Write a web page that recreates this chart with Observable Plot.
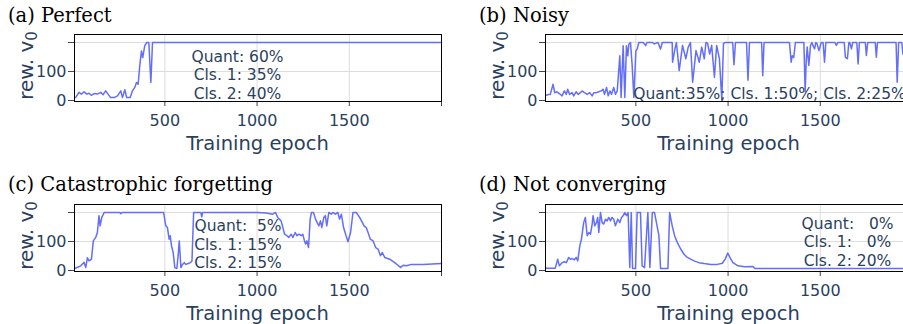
<!DOCTYPE html>
<html><head><meta charset="utf-8">
<script src="https://cdn.jsdelivr.net/npm/d3@7"></script>
<script src="https://cdn.jsdelivr.net/npm/@observablehq/plot@0.6"></script>
<style>
body{margin:0;background:#fff;}
#root{position:relative;width:903px;height:324px;overflow:hidden;background:#fff;}
.title{position:absolute;font-family:"DejaVu Serif",serif;font-size:19.5px;line-height:19px;color:#000;white-space:nowrap;}
.panel{position:absolute;width:460px;height:150px;}
.panel svg{max-width:none !important;}
svg text{white-space:pre;}
</style></head><body><div id="root"></div>
<script>
// ---------- data ----------
const titles = ["(a) Perfect", "(b) Noisy", "(c) Catastrophic forgetting", "(d) Not converging"];

const epochsA = [16,34,47,62,76,89,101,116,134,152,165,179,192,206,225,243,261,270,283,293,312,324,337,346,355,364,373,380,391,402,413,424,433,2000];
const rewA    = [10,28,22,30,22,25,18,24,22,28,20,33,22,10,10,16,33,10,37,10,10,33,45,62,56,120,171,148,189,200,200,62,200,200];

const epochsB = [14,27,36,51,60,72,85,100,112,123,130,141,154,163,176,187,199,208,221,236,250,263,272,286,299,312,322,330,341,350,359,368,380,389,399,
  413,420,431,440,449,456,462,471,480,489,500,507,516,540,553,560,590,600,620,634,643,697,
  699,712,720,735,753,771,784,796,808,826,844,857,871,880,889,900,911,926,938,953,966,975,985,1025,1032,1040,1100,1108,1116,1182,1188,1195,
  1333,1342,1348,1356,1365,1411,1418,1424,1429,1438,1447,1455,1460,1469,1476,1482,1493,1505,1515,1523,1530,1580,1587,1595,1630,1636,1647,1655,
  1660,1669,1676,1698,1705,1712,1744,1750,1757,1798,1804,1810,1911,1917,1925,1942,1948,1955,1970,1980,2000];
const rewB    = [18,21,21,56,27,30,24,16,33,21,39,21,27,16,30,21,27,33,27,21,27,16,27,27,30,33,39,21,45,16,33,21,45,21,33,
  154,10,189,10,189,154,194,200,120,10,171,177,200,200,189,200,200,195,200,177,200,200,
  132,178,200,103,190,144,184,200,63,172,132,184,144,200,197,160,190,80,190,144,2,197,200,200,123,200,200,70,200,200,85,200,
  200,132,154,148,200,200,30,140,184,121,190,200,190,178,200,196,172,200,200,132,200,200,190,200,200,149,144,200,
  200,178,200,200,126,200,200,155,200,200,149,200,200,63,200,200,160,200,200,185,200];

const epochsC = [11,44,62,71,80,89,102,112,125,134,143,149,158,171,255,261,267,493,505,514,523,529,536,545,554,565,572,578,587,596,605,614,627,638,647,656,695,700,705,
  1000,1049,1085,1100,1112,1130,1140,1149,1162,1172,1185,1194,1207,1216,1227,1239,1248,1257,1263,1270,1279,1288,1295,1306,1317,1326,1335,1344,1351,1362,1370,1378,1389,1402,1411,1425,1438,1447,1457,1469,1480,1493,1507,1520,1538,1556,1571,1580,1592,1605,1614,1629,1643,1656,1669,1679,1692,1719,1746,1764,1777,1792,1810,1837,1900,2000];
const rewC    = [7,16,28,10,44,33,39,102,114,131,189,154,183,200,200,196,200,200,154,148,108,120,85,62,10,7,51,102,10,21,27,21,24,27,33,200,200,185,200,
  200,198,194,200,183,171,148,125,120,114,125,114,131,120,125,120,125,102,91,102,79,177,200,200,177,165,154,171,148,183,189,154,200,194,200,194,200,177,194,148,125,99,131,200,200,183,165,154,148,125,108,102,79,74,51,62,45,39,27,18,10,18,16,21,21,24];

const epochsD = [14,63,76,85,100,112,123,136,145,154,167,176,185,196,205,217,226,236,245,254,263,268,277,286,293,299,308,317,326,335,344,353,362,371,380,389,402,413,422,431,440,449,458,467,475,482,498,507,525,534,547,565,576,589,601,625,634,674,683,697,710,725,743,761,779,797,815,842,870,906,942,969,985,998,1010,1026,1054,1090,1135,1145,2000];
const rewD    = [8,8,39,16,27,30,27,45,39,41,37,45,33,85,108,165,183,120,131,125,160,189,154,165,183,131,200,165,160,177,171,183,171,183,177,154,177,165,183,189,200,189,200,10,200,7,7,200,200,16,10,200,10,200,200,120,7,7,200,154,120,96,74,56,45,39,33,27,24,21,21,25,40,60,45,27,16,13,14,7,7];

const annA = ["Quant: 60%", "Cls. 1: 35%", "Cls. 2: 40%"];
const annB = ["Quant:35%; Cls. 1:50%; Cls. 2:25%"];
const annC = ["Quant:  5%", "Cls. 1: 15%", "Cls. 2: 15%"];
const annD = ["Quant:   0%", "Cls. 1:   0%", "Cls. 2: 20%"];

const xTicks = [500, 1000, 1500, 2000];
const yTicks = [0, 100, 200];
const xLabel = "Training epoch";
const yLabelMain = "rew. v";
const yLabelSub = "0";

// ---------- layout ----------
const TEXT = "#2a3f5f";
const root = document.getElementById("root");
const panels = [
  {ep: epochsA, rw: rewA, ann: annA, left: 0,   top: 20,  tLeft: 8,   tTop: 5.5, dx: 163,  dy: 13.7, anchor: "middle"},
  {ep: epochsB, rw: rewB, ann: annB, left: 471, top: 20,  tLeft: 479, tTop: 5.5, dx: 87.7, dy: 50.7, anchor: "start"},
  {ep: epochsC, rw: rewC, ann: annC, left: 0,   top: 190, tLeft: 8,   tTop: 175, dx: 163.5,dy: 13,   anchor: "middle"},
  {ep: epochsD, rw: rewD, ann: annD, left: 471, top: 190, tLeft: 479, tTop: 175, dx: 302,  dy: 10.7, anchor: "middle"}
];

const W = 460, H = 150, ML = 74, MT = 14, MR = 19, MB = 69;

panels.forEach((p, i) => {
  const t = document.createElement("div");
  t.className = "title";
  t.style.left = p.tLeft + "px";
  t.style.top = p.tTop + "px";
  t.textContent = titles[i];
  root.appendChild(t);

  const data = p.ep.map((e, j) => ({epoch: e, rew: p.rw[j]}));
  const svg = Plot.plot({
    width: W, height: H,
    marginLeft: ML, marginTop: MT, marginRight: MR, marginBottom: MB,
    x: {domain: [10, 2000]},
    y: {domain: [-3.5, 227.5]},
    style: {fontFamily: "DejaVu Sans", fontSize: "16px", color: TEXT, background: "transparent", overflow: "visible", maxWidth: "none"},
    marks: [
      Plot.gridX([500, 1000, 1500], {stroke: "#dddddd", strokeOpacity: 1}),
      Plot.gridY([100, 200], {stroke: "#dddddd", strokeOpacity: 1}),
      Plot.line(data, {x: "epoch", y: "rew", stroke: "#636efa", strokeWidth: 1.5}),
      Plot.axisX(xTicks, {tickSize: 5, tickPadding: 8, label: null, stroke: "#444", fill: TEXT, fontSize: 16,
        tickFormat: d => d === 2000 ? "" : String(d)}),
      Plot.axisY(yTicks, {tickSize: 6, tickPadding: 2, label: null, stroke: "#444", fill: TEXT, fontSize: 16,
        tickFormat: d => d === 200 ? "" : String(d)}),
      Plot.frame({stroke: "black"}),
      Plot.text([p.ann.join("\n")], {text: d => d, frameAnchor: "top-left", dx: p.dx, dy: p.dy,
        textAnchor: p.anchor, lineAnchor: "top", lineHeight: 1.21, fontSize: 15.5, fill: TEXT})
    ]
  });
  svg.style.maxWidth = "none";
  svg.style.width = W + "px";
  svg.style.height = H + "px";
  const s = d3.select(svg);
  const fw = W - ML - MR, fh = H - MT - MB;
  s.append("text")
    .attr("x", ML + fw / 2).attr("y", MT + fh + 49)
    .attr("text-anchor", "middle").attr("fill", TEXT)
    .attr("font-family", "DejaVu Sans").attr("font-size", 19.5)
    .text(xLabel);
  const yl = s.append("text")
    .attr("transform", `translate(33,${MT + fh / 2 - 2}) rotate(-90)`)
    .attr("text-anchor", "middle").attr("fill", TEXT)
    .attr("font-family", "DejaVu Sans").attr("font-size", 20);
  yl.append("tspan").text(yLabelMain);
  yl.append("tspan").attr("font-size", "0.75em").attr("dy", "0.25em").text(yLabelSub);

  const wrap = document.createElement("div");
  wrap.className = "panel";
  wrap.style.left = p.left + "px";
  wrap.style.top = p.top + "px";
  wrap.appendChild(svg);
  root.appendChild(wrap);
});
</script>
</body></html>
